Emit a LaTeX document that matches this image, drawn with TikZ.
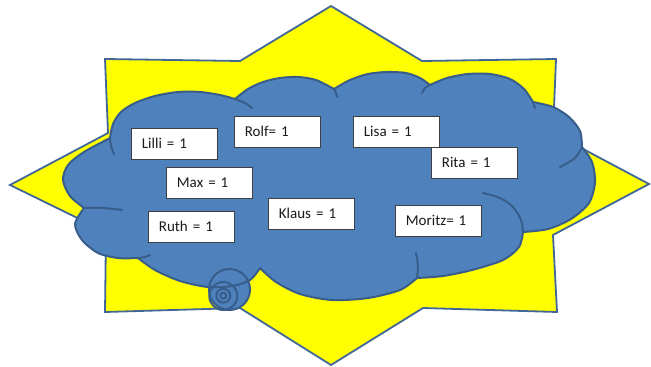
\documentclass[tikz,border=0pt]{standalone}
\usepackage{fontspec}
\setmainfont{Carlito}[WordSpace=0.85]
\definecolor{staryellow}{HTML}{FFFF00}
\definecolor{starline}{HTML}{41679A}
\definecolor{cloudblue}{HTML}{4F81BD}
\definecolor{cloudline}{HTML}{385D8A}
\definecolor{boxline}{HTML}{3F3F3F}
\definecolor{boxtext}{HTML}{1A1A1A}
\begin{document}
\begin{tikzpicture}[x=1pt,y=-1pt,
  starshape/.style={fill=staryellow,draw=starline,line width=1.8pt,line join=miter},
  cloudshape/.style={fill=cloudblue,draw=cloudline,line width=2pt,line join=round},
  innerarc/.style={draw=cloudline,line width=2pt,line cap=round},
  tailfill/.style={fill=cloudblue},
  tailline/.style={draw=cloudline,line width=2pt},
  namebox/.style={draw=boxline,fill=white,line width=0.8pt,anchor=north west,
    minimum height=30.5pt,text width=65pt,inner xsep=10.5pt,align=left,
    text=boxtext,font=\fontsize{15pt}{18pt}\selectfont}]
\useasboundingbox (0,0) rectangle (651,367);
\def\cloudpath{plot[smooth] coordinates {(110,138) (113,124) (121,112) (135,103) (155,96) (178,92) (200,92) (220,95) (235,99)}
 -- plot[smooth] coordinates {(235,99) (248,89) (263,82) (280,78) (298,77) (316,80) (334,89)}
 -- plot[smooth] coordinates {(334,89) (350,80) (368,74) (387,72) (406,73) (420,78) (430,85)}
 -- plot[smooth] coordinates {(430,85) (447,78) (468,74) (490,74) (510,79) (524,89) (533,102)}
 -- plot[smooth] coordinates {(533,102) (553,107) (569,117) (580,131) (582,147)}
 -- plot[smooth] coordinates {(582,147) (592,162) (595,182) (589,203) (571,219) (548,229) (523,232)}
 -- plot[smooth] coordinates {(523,232) (519,247) (503,260) (472,270) (443,276) (417,278)}
 -- plot[smooth] coordinates {(417,278) (400,290) (368,298) (332,300) (300,294) (276,282) (260,268)}
 -- plot[smooth] coordinates {(260,268) (250,280) (232,286) (208,287) (180,281) (155,270) (138,258)}
 -- plot[smooth] coordinates {(138,258) (118,258) (98,253) (82,240) (75,224) (84,208)}
 -- plot[smooth] coordinates {(84,208) (70,196) (63,180) (68,165) (84,152) (110,138)}
 -- cycle}
% star
\path[starshape] (331,6) -- (422,61) -- (556,59) -- (553,133) -- (649,184) -- (553,235)
  -- (557,312) -- (423,308) -- (331,365) -- (240,308) -- (105,312) -- (106,232)
  -- (10,185) -- (108,133) -- (105,59) -- (240,61) -- cycle;
% tail circle fill beneath the cloud
\path[tailfill] (229.5,289.5) circle[radius=20.5pt];
% cloud
\path[cloudshape] \cloudpath;
% inner arcs of the cloud
\draw[innerarc] plot[smooth] coordinates {(114,154) (111,146) (110,138)};
\draw[innerarc] plot[smooth] coordinates {(235,99) (245,103) (252,108)};
\draw[innerarc] plot[smooth] coordinates {(334,89) (336,93) (337,97)};
\draw[innerarc] plot[smooth] coordinates {(422,93) (425,88) (430,85)};
\draw[innerarc] plot[smooth] coordinates {(533,102) (534,105) (535,108)};
\draw[innerarc] plot[smooth] coordinates {(582,147) (575,158) (560,167)};
\draw[innerarc] plot[smooth] coordinates {(483,193) (500,198) (513,207) (521,220) (523,232)};
\draw[innerarc] plot[smooth] coordinates {(416,253) (418,266) (417,278)};
\draw[innerarc] plot[smooth] coordinates {(138,258) (145,257) (150,255)};
\draw[innerarc] plot[smooth] coordinates {(84,208) (103,208) (122,210)};
% tail circle outlines
\path[tailline] (229.5,289.5) circle[radius=20.5pt];
\path[tailline] (223.3,296) circle[radius=14pt];
\path[tailline] (223.3,295.7) circle[radius=7pt];
\path[tailline] (223.3,295.7) circle[radius=3pt];
% name boxes
\node[namebox] (lilli)  at (131,128) {Lilli = 1};
\node[namebox] (rolf)   at (234,116) {Rolf= 1};
\node[namebox] (lisa)   at (353,116) {Lisa = 1};
\node[namebox] (rita)   at (431,147) {Rita = 1};
\node[namebox] (max)    at (166,167) {Max = 1};
\node[namebox] (klaus)  at (268,198) {Klaus = 1};
\node[namebox] (ruth)   at (148,211) {Ruth = 1};
\node[namebox] (moritz) at (395,205) {Moritz= 1};
\end{tikzpicture}
\end{document}
